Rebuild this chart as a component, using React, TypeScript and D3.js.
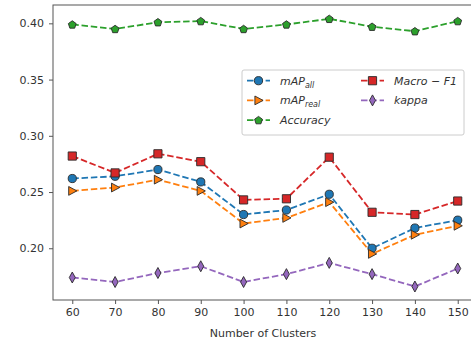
import React, { useEffect, useRef } from 'react';
import * as d3 from 'd3';

const clusters = [60, 70, 80, 90, 100, 110, 120, 130, 140, 150];
const mapAll = [0.262, 0.264, 0.270, 0.259, 0.230, 0.234, 0.248, 0.200, 0.218, 0.225];
const mapReal = [0.251, 0.254, 0.261, 0.251, 0.222, 0.227, 0.241, 0.195, 0.212, 0.220];
const accuracy = [0.399, 0.395, 0.401, 0.402, 0.395, 0.399, 0.404, 0.397, 0.393, 0.402];
const macroF1 = [0.282, 0.267, 0.284, 0.277, 0.243, 0.244, 0.281, 0.232, 0.230, 0.242];
const kappa = [0.174, 0.170, 0.178, 0.184, 0.170, 0.177, 0.187, 0.177, 0.166, 0.182];
const yTicks = [0.20, 0.25, 0.30, 0.35, 0.40];

const font = 'DejaVu Sans, sans-serif';

type Series = { name: string; sub?: string; values: number[]; color: string; marker: string };

const series: Series[] = [
  { name: 'mAP', sub: 'all', values: mapAll, color: '#1f77b4', marker: 'circle' },
  { name: 'mAP', sub: 'real', values: mapReal, color: '#ff7f0e', marker: 'tri' },
  { name: 'Accuracy', values: accuracy, color: '#2ca02c', marker: 'pent' },
  { name: 'Macro \u2212 F1', values: macroF1, color: '#d62728', marker: 'square' },
  { name: 'kappa', values: kappa, color: '#9467bd', marker: 'diamond' },
];

function markerPath(m: string): string {
  if (m === 'circle') return d3.symbol(d3.symbolCircle, Math.PI * 16.8)() as string;
  if (m === 'square') return 'M-4.1,-4.1H4.1V4.1H-4.1Z';
  if (m === 'tri') return 'M4.6,0L-3.6,-4.4L-3.6,4.4Z';
  if (m === 'diamond') return 'M0,-5.5L3,0L0,5.5L-3,0Z';
  const pts = d3.range(5).map(i => {
    const a = -Math.PI / 2 + (i * 2 * Math.PI) / 5;
    return [4.1 * Math.cos(a), 4.1 * Math.sin(a) + 0.4];
  });
  return 'M' + pts.map(p => p.join(',')).join('L') + 'Z';
}

export default function App() {
  const ref = useRef<SVGSVGElement>(null);

  useEffect(() => {
    const svg = d3.select(ref.current);
    svg.selectAll('*').remove();
    const left = 53, top = 5, bottom = 300, right = 477;
    const x = d3.scaleLinear().domain([55.5, 154.5]).range([left, right]);
    const y = d3.scaleLinear().domain([0.1540, 0.4163]).range([bottom, top]);

    const g = svg.append('g');

    // lines and markers
    series.forEach(s => {
      const line = d3.line<number>().x((_, i) => x(clusters[i])).y(d => y(d));
      g.append('path')
        .attr('d', line(s.values))
        .attr('fill', 'none')
        .attr('stroke', s.color)
        .attr('stroke-width', 1.8)
        .attr('stroke-dasharray', '6.5,2.8');
      g.selectAll(null)
        .data(s.values)
        .enter()
        .append('path')
        .attr('d', markerPath(s.marker))
        .attr('transform', (d, i) => `translate(${x(clusters[i])},${y(d)})`)
        .attr('fill', s.color)
        .attr('stroke', '#2a2a2a')
        .attr('stroke-width', 0.9);
    });

    // frame
    g.append('rect')
      .attr('x', left).attr('y', top)
      .attr('width', right - left).attr('height', bottom - top)
      .attr('fill', 'none').attr('stroke', '#555').attr('stroke-width', 1);

    // x axis
    const xa = g.append('g').attr('transform', `translate(0,${bottom})`)
      .call(d3.axisBottom(x).tickValues(clusters).tickSize(4).tickPadding(4));
    xa.select('.domain').remove();
    xa.selectAll('line').attr('stroke', '#555');
    xa.selectAll('text').attr('font-family', font).attr('font-size', 11).attr('fill', '#333');

    const ya = g.append('g').attr('transform', `translate(${left},0)`)
      .call(d3.axisLeft(y).tickValues(yTicks).tickFormat(d3.format('.2f')).tickSize(4).tickPadding(5));
    ya.select('.domain').remove();
    ya.selectAll('line').attr('stroke', '#555');
    ya.selectAll('text').attr('font-family', font).attr('font-size', 11).attr('fill', '#333');

    g.append('text')
      .attr('x', (left + 477) / 2 - 2).attr('y', 337)
      .attr('text-anchor', 'middle')
      .attr('font-family', font).attr('font-size', 11).attr('fill', '#333')
      .text('Number of Clusters');

    // legend
    const lg = g.append('g');
    lg.append('rect')
      .attr('x', 242).attr('y', 70).attr('width', 222).attr('height', 65).attr('rx', 2)
      .attr('fill', 'white').attr('fill-opacity', 0.85)
      .attr('stroke', '#ccc').attr('stroke-width', 1);
    series.forEach((s, i) => {
      const col = i < 3 ? 0 : 1;
      const row = i < 3 ? i : i - 3;
      const lx = col === 0 ? 247 : 361;
      const ly = 80.7 + row * 19.7;
      lg.append('line')
        .attr('x1', lx).attr('x2', lx + 23).attr('y1', ly).attr('y2', ly)
        .attr('stroke', s.color).attr('stroke-width', 1.8).attr('stroke-dasharray', '6.5,2.8');
      lg.append('path')
        .attr('d', markerPath(s.marker))
        .attr('transform', `translate(${lx + 11.5},${ly})`)
        .attr('fill', s.color).attr('stroke', '#2a2a2a').attr('stroke-width', 0.9);
      const t = lg.append('text')
        .attr('x', lx + 33).attr('y', ly + 4)
        .attr('font-family', font).attr('font-size', 11).attr('font-style', 'italic').attr('fill', '#333')
        .text(s.name);
      if (s.sub) {
        t.append('tspan').attr('dy', 3).attr('font-size', 8).text(s.sub);
      }
    });
  }, []);

  return (
    <div style={{ position: 'absolute', left: 0, top: 0 }}>
      <svg ref={ref} width={471} height={341} style={{ display: 'block', background: 'white' }} />
    </div>
  );
}
